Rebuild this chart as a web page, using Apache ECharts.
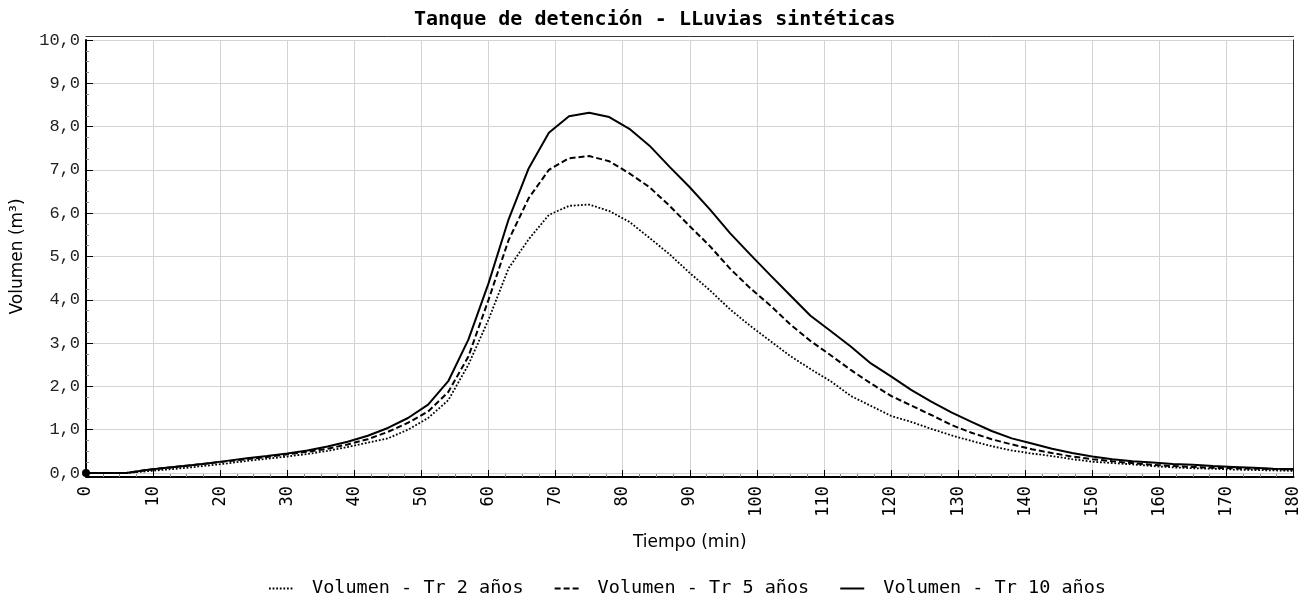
<!DOCTYPE html>
<html>
<head>
<meta charset="utf-8">
<script src="https://cdn.jsdelivr.net/npm/echarts@6/dist/echarts.min.js"></script>
<style>
html,body{margin:0;padding:0;background:#fff;}
#chart{width:1312px;height:598px;}
</style>
</head>
<body>
<div id="chart"></div>
<script>
const tiempo = [0,3,6,9,12,15,18,21,24,27,30,33,36,39,42,45,48,51,54,57,60,63,66,69,72,75,78,81,84,87,90,93,96,99,102,105,108,111,114,117,120,123,126,129,132,135,138,141,144,147,150,153,156,159,162,165,168,171,174,177,180];
const tr2 = [0,0,0,0.04,0.08,0.12,0.17,0.22,0.28,0.33,0.38,0.44,0.51,0.60,0.70,0.80,1.00,1.27,1.68,2.50,3.54,4.73,5.40,5.96,6.17,6.20,6.05,5.80,5.43,5.05,4.62,4.22,3.78,3.40,3.05,2.70,2.40,2.12,1.78,1.55,1.32,1.18,1.02,0.87,0.74,0.62,0.52,0.45,0.39,0.32,0.26,0.23,0.20,0.16,0.13,0.11,0.10,0.08,0.07,0.06,0.05];
const tr5 = [0,0,0,0.07,0.12,0.17,0.22,0.27,0.32,0.37,0.43,0.49,0.56,0.66,0.78,0.95,1.16,1.42,1.87,2.69,4.00,5.38,6.35,7.00,7.27,7.32,7.20,6.92,6.60,6.17,5.70,5.24,4.72,4.27,3.87,3.43,3.05,2.72,2.38,2.07,1.78,1.56,1.34,1.11,0.93,0.78,0.66,0.55,0.46,0.38,0.32,0.27,0.23,0.19,0.16,0.14,0.12,0.11,0.10,0.09,0.08];
const tr10 = [0,0,0,0.07,0.12,0.17,0.22,0.28,0.34,0.39,0.45,0.52,0.61,0.72,0.86,1.04,1.27,1.58,2.12,3.08,4.38,5.86,7.04,7.86,8.24,8.32,8.22,7.95,7.56,7.07,6.60,6.09,5.54,5.05,4.57,4.10,3.63,3.28,2.92,2.53,2.23,1.92,1.65,1.40,1.18,0.97,0.80,0.68,0.56,0.46,0.38,0.32,0.27,0.24,0.21,0.19,0.16,0.14,0.12,0.10,0.09];
const seriesNames = ['Volumen - Tr 2 años','Volumen - Tr 5 años','Volumen - Tr 10 años'];
const titleText = 'Tanque de detención - LLuvias sintéticas';
const xName = 'Tiempo (min)';
const yName = 'Volumen (m³)';

const pair = arr => tiempo.map((t,i) => [t, arr[i]]);
const monoFont = '"DejaVu Sans Mono", monospace';

const chart = echarts.init(document.getElementById('chart'), null, {renderer:'canvas'});
const commonSeries = {type:'line', symbol:'none', showSymbol:false, smooth:false, animation:false, z:3};
const firstDot = arr => {
  const d = pair(arr);
  d[0] = {value:d[0], symbol:'circle', symbolSize:8, itemStyle:{color:'#000', opacity:1}};
  return d;
};
chart.setOption({
  backgroundColor:'#fff',
  animation:false,
  title:{text:titleText, left:409, top:5, textStyle:{fontFamily:monoFont, fontWeight:'bold', fontSize:20, color:'#000'}},
  legend:{
    top:574, left:263, itemWidth:24, itemHeight:10, itemGap:30,
    itemStyle:{opacity:0},
    textStyle:{fontFamily:monoFont, fontSize:18.5, color:'#000', padding:[0,0,0,14]},
    data:seriesNames
  },
  grid:{left:86, right:18.5, top:40, bottom:125, containLabel:false},
  xAxis:[{
    type:'value', min:0, max:180, interval:10, offset:4,
    name:xName, nameLocation:'middle', nameGap:57,
    nameTextStyle:{fontFamily:'"DejaVu Sans", sans-serif', fontSize:17, color:'#000'},
    axisLine:{show:true, onZero:false, lineStyle:{color:'#000', width:2}},
    axisTick:{show:true, inside:true, length:7, lineStyle:{color:'#000'}},
    minorTick:{show:true, splitNumber:4, length:3, lineStyle:{color:'#888'}},
    axisLabel:{rotate:90, margin:9, fontFamily:monoFont, fontSize:17, color:'#000'},
    splitLine:{show:true, lineStyle:{color:'#d3d3d3', width:1}}
  },{
    type:'value', min:0, max:180, position:'top', offset:4,
    axisLine:{show:true, onZero:false, lineStyle:{color:'#333', width:1}},
    axisTick:{show:false}, axisLabel:{show:false}, splitLine:{show:false}
  }],
  yAxis:[{
    type:'value', min:0, max:10, interval:1,
    name:yName, nameLocation:'middle', nameGap:60, nameRotate:90,
    nameTextStyle:{fontFamily:'"DejaVu Sans", sans-serif', fontSize:17, color:'#000'},
    axisLine:{show:true, onZero:false, lineStyle:{color:'#000', width:2}},
    axisTick:{show:true, inside:true, length:7, lineStyle:{color:'#000'}},
    minorTick:{show:true, splitNumber:4, length:3, lineStyle:{color:'#888'}},
    axisLabel:{margin:6, fontFamily:'"Liberation Mono", monospace', fontSize:17, color:'#222', formatter: v => v.toFixed(1).replace('.', ',')},
    splitLine:{show:true, lineStyle:{color:'#d3d3d3', width:1}}
  },{
    type:'value', min:0, max:10, position:'right',
    axisLine:{show:true, onZero:false, lineStyle:{color:'#333', width:1}},
    axisTick:{show:false}, axisLabel:{show:false}, splitLine:{show:false}
  }],
  series:[
    Object.assign({}, commonSeries, {name:seriesNames[0], data:pair(tr2), lineStyle:{color:'#000', width:1.8, type:[1.8,1.8]}, itemStyle:{color:'#000'}}),
    Object.assign({}, commonSeries, {name:seriesNames[1], data:pair(tr5), lineStyle:{color:'#000', width:2, type:[6,3]}, itemStyle:{color:'#000'}}),
    Object.assign({}, commonSeries, {name:seriesNames[2], data:firstDot(tr10), showSymbol:true, clip:false, lineStyle:{color:'#000', width:2, type:'solid'}, itemStyle:{color:'#000'}})
  ]
});
</script>
</body>
</html>
